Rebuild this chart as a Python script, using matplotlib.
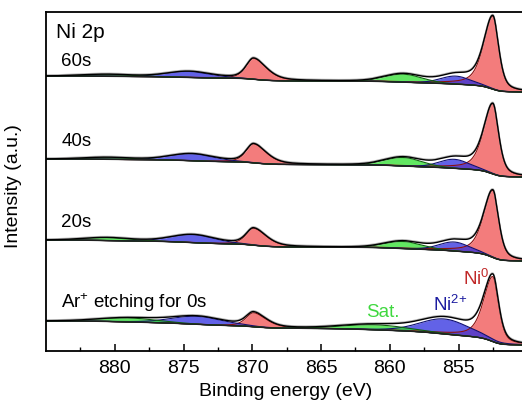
import numpy as np
import matplotlib
matplotlib.use('Agg')
import matplotlib.pyplot as plt

plt.rcParams['font.family'] = ['Liberation Sans', 'DejaVu Sans']
plt.rcParams['mathtext.default'] = 'regular'

# spectra, top to bottom (heights in a.u., axis runs 0..339)
labels = ['60s', '40s', '20s', 'Ar$^{+}$ etching for 0s']
label_y = [291, 210, 129, 49]
base_left = [275, 192, 111, 30]   # background level at 885 eV
base_right = [259, 174, 90, 6]    # background level at 850 eV

# Ni0 2p3/2 and 2p1/2 (metal)
ni0_32_pos = [852.5, 852.5, 852.5, 852.5]
ni0_32_h = [73, 70, 67, 65]
ni0_12_pos = [869.9, 869.9, 869.9, 869.9]
ni0_12_h = [21, 19, 17, 14]

# Ni2+ 2p3/2 and 2p1/2
ni2_32_pos = [855.2, 855.3, 855.3, 856.0]
ni2_32_h = [8, 9, 9, 15]
ni2_32_w = [1.3, 1.3, 1.3, 2.1]
ni2_12_pos = [874.6, 874.4, 874.3, 874.0]
ni2_12_h = [6, 7, 8, 8]
ni2_12_w = [1.9, 1.9, 1.9, 2.2]

# satellites
sat_32_pos = [859.0, 859.0, 859.0, 861.0]
sat_32_h = [8, 8.5, 7, 5]
sat_32_w = [1.6, 1.6, 1.6, 2.8]
sat_12_pos = [880.5, 880.5, 880.5, 879.0]
sat_12_h = [2, 2, 3, 4]
sat_12_w = [2.0, 2.0, 2.0, 2.5]

RED = '#f05050'
BLUE = '#2d2de0'
GREEN = '#2ee02e'


def peak(x, c, h, w_hi, w_lo, eta=0.45):
    # asymmetric pseudo-Voigt, w_hi used on the high binding energy side
    w = np.where(x > c, w_hi, w_lo)
    d = (x - c) / w
    return h * (eta / (1 + d ** 2) + (1 - eta) * np.exp(-np.log(2) * d ** 2))


x = np.linspace(850, 885, 1401)

fig = plt.figure(figsize=(5.22, 4.14), dpi=100)
ax = fig.add_axes([46 / 522, 62 / 414, 481.3 / 522, 339 / 414])

for i in range(len(labels)):
    comps = [
        (peak(x, ni0_32_pos[i], ni0_32_h[i], 0.8, 0.5, 0.55), RED, '#8b1010'),
        (peak(x, ni0_12_pos[i], ni0_12_h[i], 0.65, 1.1, 0.5), RED, '#8b1010'),
        (peak(x, ni2_32_pos[i], ni2_32_h[i], ni2_32_w[i], ni2_32_w[i], 0.2), BLUE, '#101070'),
        (peak(x, ni2_12_pos[i], ni2_12_h[i], ni2_12_w[i], ni2_12_w[i], 0.2), BLUE, '#101070'),
        (peak(x, sat_32_pos[i], sat_32_h[i], sat_32_w[i], sat_32_w[i], 0.1), GREEN, '#106010'),
        (peak(x, sat_12_pos[i], sat_12_h[i], sat_12_w[i], sat_12_w[i], 0.1), GREEN, '#106010'),
    ]
    total = sum(c[0] for c in comps)

    # Shirley-type background
    cum = np.concatenate([[0], np.cumsum((total[1:] + total[:-1]) / 2)])
    base = base_right[i] + (base_left[i] - base_right[i]) * cum / cum[-1]

    for comp, fc, ec in comps:
        ax.fill_between(x, base, base + comp, color=fc, alpha=0.75, lw=0)
        ax.plot(x, base + comp, color=ec, lw=0.8)

    env = base + total
    ax.plot(x, env + 0.7, color='#b4b4b4', lw=1.2)
    ax.plot(x, base, color='#202020', lw=1.0)
    ax.plot(x, env, color='black', lw=1.0)

    ax.text(883.9, label_y[i], labels[i], fontsize=13.5, va='center', ha='left')

ax.text(884.3, 320, 'Ni 2p', fontsize=15, va='center', ha='left')
ax.text(860.5, 35.3, 'Sat.', color='#3fd83f', fontsize=13.5, ha='center', va='baseline')
ax.text(855.6, 41.3, 'Ni$^{2{+}}$', color='#1c1ca0', fontsize=13.5, ha='center', va='baseline')
ax.text(853.7, 67, 'Ni$^{0}$', color='#c02828', fontsize=13.5, ha='center', va='baseline')

ax.set_xlim(885, 850)
ax.set_ylim(0, 339)
ax.set_xticks([880, 875, 870, 865, 860, 855])
ax.set_xticks(np.arange(852.5, 885, 5), minor=True)
ax.tick_params(axis='x', which='major', direction='in', length=5, width=1.1,
               labelsize=14, pad=6)
ax.tick_params(axis='x', which='minor', direction='in', length=3, width=1.0)
ax.set_yticks([])
for s in ax.spines.values():
    s.set_linewidth(1.3)

ax.set_xlabel('Binding energy (eV)', fontsize=14)
ax.xaxis.set_label_coords(0.498, -0.09)
ax.set_ylabel('Intensity (a.u.)', fontsize=14)
ax.yaxis.set_label_coords(-0.05, 0.49)

fig.savefig('out.png', dpi=100)
